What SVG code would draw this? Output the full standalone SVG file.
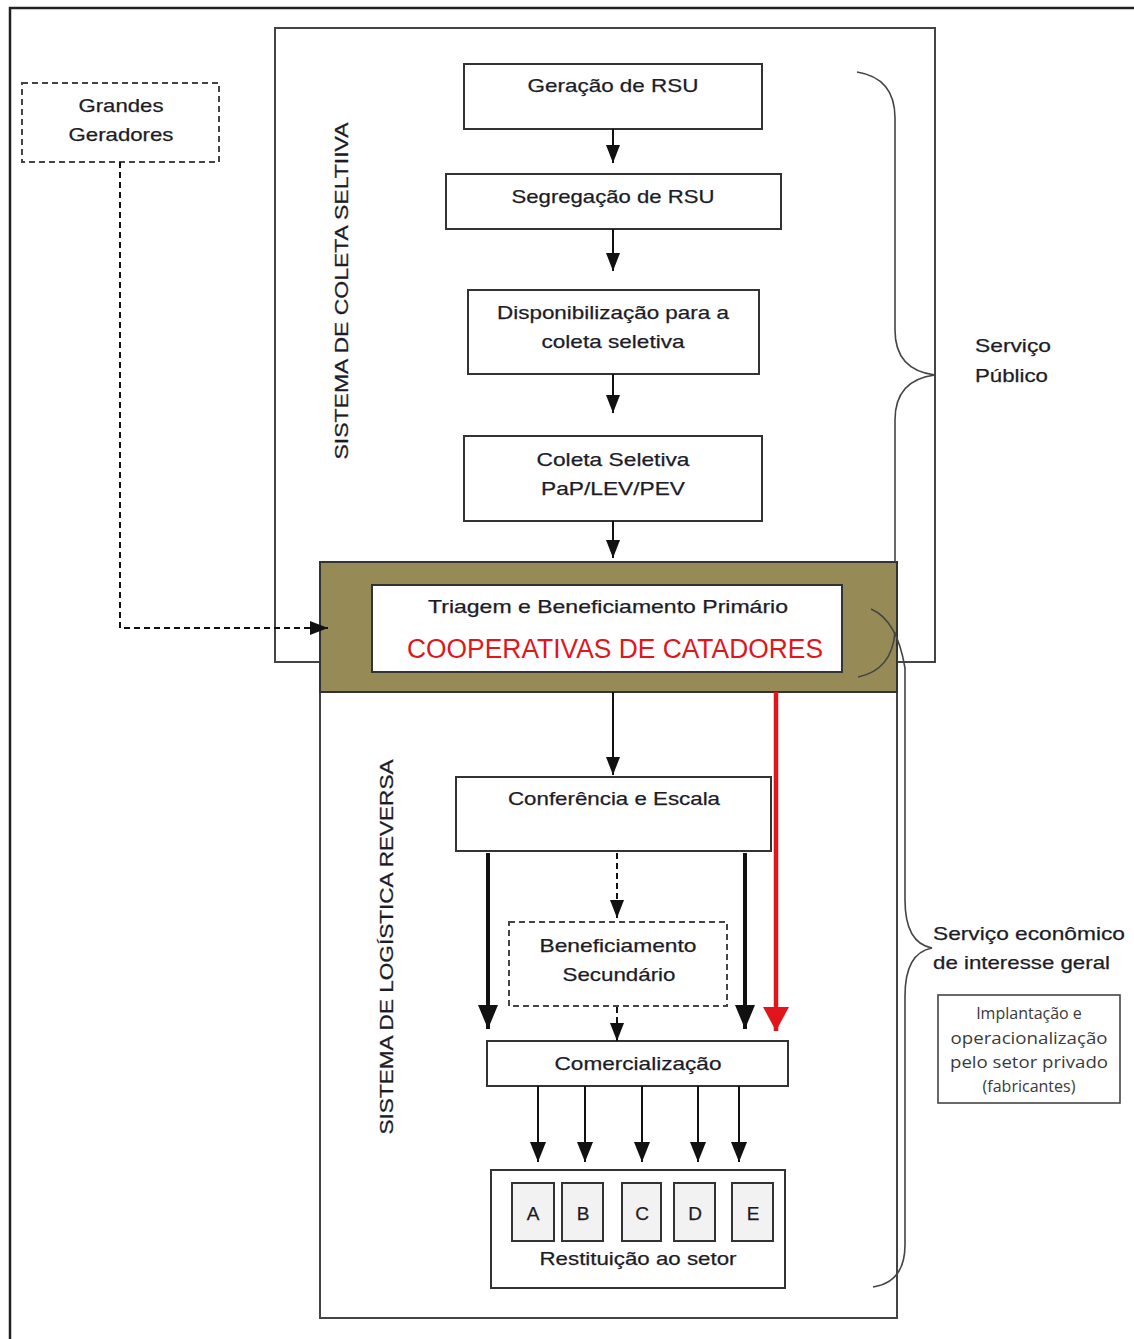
<svg xmlns="http://www.w3.org/2000/svg" width="1134" height="1339" viewBox="0 0 1134 1339">
  <style>
    .box { fill: #fff; stroke: #333; stroke-width: 2; }
    .dbox { fill: #fff; stroke: #444; stroke-width: 2; stroke-dasharray: 6 4; }
    .frame { fill: none; stroke: #444; stroke-width: 2; }
    .brace { fill: none; stroke: #444; stroke-width: 1.6; }
    .t { font-family: "Liberation Sans", Arial, sans-serif; font-size: 19px; fill: #1c1c28; text-anchor: middle; stroke: #1c1c28; stroke-width: 0.25; }
    .tl { font-family: "Liberation Sans", Arial, sans-serif; font-size: 19px; fill: #1c1c28; stroke: #1c1c28; stroke-width: 0.25; }
    .note { font-family: "Open Sans", "Noto Sans", sans-serif; font-size: 16px; fill: #3a3a3a; text-anchor: middle; }
    .ln { fill: none; stroke: #111; stroke-width: 2; }
    .dash { fill: none; stroke: #111; stroke-width: 2; stroke-dasharray: 6 4; }
    .thick { fill: none; stroke: #111; stroke-width: 4; }
    .red { fill: none; stroke: #e0161c; stroke-width: 4.5; }
    .sq { fill: #f2f2f2; stroke: #333; stroke-width: 2; }
  </style>
  <defs>
    <marker id="ah" markerUnits="userSpaceOnUse" viewBox="0 0 18 14" refX="18" refY="7" markerWidth="18" markerHeight="14" orient="auto">
      <path d="M0,0 L18,7 L0,14 z" fill="#111"/>
    </marker>
    <marker id="ahBig" markerUnits="userSpaceOnUse" viewBox="0 0 24 20" refX="24" refY="10" markerWidth="24" markerHeight="20" orient="auto">
      <path d="M0,0 L24,10 L0,20 z" fill="#111"/>
    </marker>
    <marker id="ahMid" markerUnits="userSpaceOnUse" viewBox="0 0 20 16" refX="20" refY="8" markerWidth="20" markerHeight="16" orient="auto">
      <path d="M0,0 L20,8 L0,16 z" fill="#111"/>
    </marker>
    <marker id="ahRed" markerUnits="userSpaceOnUse" viewBox="0 0 24 26" refX="24" refY="13" markerWidth="24" markerHeight="26" orient="auto">
      <path d="M0,0 L24,13 L0,26 z" fill="#e0161c"/>
    </marker>
  </defs>

  <rect x="0" y="0" width="1134" height="1339" fill="#fff"/>

  <!-- outer frame (open on right and bottom) -->
  <path d="M10,1339 V8 H1134" fill="none" stroke="#222" stroke-width="2.5"/>

  <!-- system enclosures -->
  <g id="sistema-coleta">
    <path class="frame" d="M320,662 H275 V28 H935 V662 H897"/>
    <text class="t" transform="translate(348,291) rotate(-90)" textLength="337" lengthAdjust="spacingAndGlyphs">SISTEMA DE COLETA SELTIIVA</text>
  </g>
  <g id="sistema-logistica">
    <path class="frame" d="M320,692 V1318 H897 V692"/>
    <text class="t" transform="translate(393,947) rotate(-90)" textLength="375" lengthAdjust="spacingAndGlyphs">SISTEMA DE LOGÍSTICA REVERSA</text>
  </g>

  <!-- process nodes -->
  <g id="grandes-geradores">
    <rect class="dbox" x="22" y="83" width="197" height="79"/>
    <text class="t" x="121" y="112" textLength="85" lengthAdjust="spacingAndGlyphs">Grandes</text>
    <text class="t" x="121" y="141" textLength="105" lengthAdjust="spacingAndGlyphs">Geradores</text>
  </g>
  <g id="geracao">
    <rect class="box" x="464" y="64" width="298" height="65"/>
    <text class="t" x="613" y="92" textLength="171" lengthAdjust="spacingAndGlyphs">Geração de RSU</text>
  </g>
  <g id="segregacao">
    <rect class="box" x="446" y="174" width="335" height="55"/>
    <text class="t" x="613" y="203" textLength="203" lengthAdjust="spacingAndGlyphs">Segregação de RSU</text>
  </g>
  <g id="disponibilizacao">
    <rect class="box" x="468" y="290" width="291" height="84"/>
    <text class="t" x="613" y="319" textLength="232" lengthAdjust="spacingAndGlyphs">Disponibilização para a</text>
    <text class="t" x="613" y="348" textLength="143" lengthAdjust="spacingAndGlyphs">coleta seletiva</text>
  </g>
  <g id="coleta-seletiva">
    <rect class="box" x="464" y="436" width="298" height="85"/>
    <text class="t" x="613" y="466" textLength="153" lengthAdjust="spacingAndGlyphs">Coleta Seletiva</text>
    <text class="t" x="613" y="495" textLength="144" lengthAdjust="spacingAndGlyphs">PaP/LEV/PEV</text>
  </g>
  <g id="cooperativas">
    <rect x="320" y="562" width="577" height="130" fill="#968b56" stroke="#333" stroke-width="2"/>
    <rect x="372" y="585" width="470" height="87" fill="#fff" stroke="#333" stroke-width="2"/>
    <text class="t" x="608" y="613" textLength="360" lengthAdjust="spacingAndGlyphs">Triagem e  Beneficiamento Primário</text>
    <text x="615" y="658" text-anchor="middle" font-family="'Liberation Sans', Arial, sans-serif" font-size="27" fill="#e0161c" textLength="416" lengthAdjust="spacingAndGlyphs">COOPERATIVAS DE CATADORES</text>
  </g>
  <g id="conferencia">
    <rect class="box" x="456" y="777" width="315" height="74"/>
    <text class="t" x="614" y="805" textLength="212" lengthAdjust="spacingAndGlyphs">Conferência e Escala</text>
  </g>
  <g id="beneficiamento-secundario">
    <rect class="dbox" x="509" y="922" width="218" height="84"/>
    <text class="t" x="618" y="952" textLength="157" lengthAdjust="spacingAndGlyphs">Beneficiamento</text>
    <text class="t" x="619" y="981" textLength="113" lengthAdjust="spacingAndGlyphs">Secundário</text>
  </g>
  <g id="comercializacao">
    <rect class="box" x="487" y="1041" width="301" height="45"/>
    <text class="t" x="638" y="1070" textLength="167" lengthAdjust="spacingAndGlyphs">Comercialização</text>
  </g>
  <g id="restituicao">
    <rect class="box" x="491" y="1170" width="294" height="118"/>
    <rect class="sq" x="512" y="1183" width="42" height="58"/>
    <rect class="sq" x="562" y="1183" width="41" height="58"/>
    <rect class="sq" x="622" y="1183" width="39" height="58"/>
    <rect class="sq" x="674" y="1183" width="41" height="58"/>
    <rect class="sq" x="732" y="1183" width="41" height="58"/>
    <text class="t" x="533" y="1220">A</text>
    <text class="t" x="583" y="1220">B</text>
    <text class="t" x="642" y="1220">C</text>
    <text class="t" x="695" y="1220">D</text>
    <text class="t" x="753" y="1220">E</text>
    <text class="t" x="638" y="1265" textLength="197" lengthAdjust="spacingAndGlyphs">Restituição ao setor</text>
  </g>

  <!-- braces, drawn over the cooperative block so their ends stay visible -->
  <g id="chave-servico-publico">
    <path class="brace" d="M857,72 Q895,78 895,118 V330 Q895,370 935,375 Q895,380 895,420 V562 M895,632 Q892,670 858,677"/>
    <text class="tl" x="975" y="352" textLength="76" lengthAdjust="spacingAndGlyphs">Serviço</text>
    <text class="tl" x="975" y="382" textLength="73" lengthAdjust="spacingAndGlyphs">Público</text>
  </g>
  <g id="chave-servico-economico">
    <path class="brace" d="M871,609 Q897,620 905,668 V900 Q905,943 932,948 Q905,953 905,996 V1245 Q905,1282 873,1287"/>
    <text class="tl" x="933" y="940" textLength="192" lengthAdjust="spacingAndGlyphs">Serviço econômico</text>
    <text class="tl" x="933" y="969" textLength="177" lengthAdjust="spacingAndGlyphs">de interesse geral</text>
  </g>
  <g id="nota-setor-privado">
    <rect x="938" y="995" width="182" height="108" fill="#fff" stroke="#444" stroke-width="1.6"/>
    <text class="note" x="1029" y="1019">Implantação e</text>
    <text class="note" x="1029" y="1044" textLength="157" lengthAdjust="spacingAndGlyphs">operacionalização</text>
    <text class="note" x="1029" y="1068" textLength="158" lengthAdjust="spacingAndGlyphs">pelo setor privado</text>
    <text class="note" x="1029" y="1092">(fabricantes)</text>
  </g>

  <!-- connectors -->
  <g id="conectores">
    <path class="ln" d="M613,129 V163" marker-end="url(#ah)"/>
    <path class="ln" d="M613,229 V271" marker-end="url(#ah)"/>
    <path class="ln" d="M613,374 V413" marker-end="url(#ah)"/>
    <path class="ln" d="M613,521 V558" marker-end="url(#ah)"/>
    <path class="dash" d="M120,162 V628 H328" marker-end="url(#ah)"/>
    <path class="ln" d="M613,692 V775" marker-end="url(#ah)"/>
    <path class="thick" d="M488,853 V1029" marker-end="url(#ahBig)"/>
    <path class="thick" d="M745,853 V1029" marker-end="url(#ahBig)"/>
    <path class="dash" d="M617,853 V918" marker-end="url(#ah)"/>
    <path class="dash" d="M617,1007 V1041" marker-end="url(#ah)"/>
    <path class="red" d="M776,692 V1031" marker-end="url(#ahRed)"/>
    <path class="ln" d="M538,1086 V1162" marker-end="url(#ahMid)"/>
    <path class="ln" d="M585,1086 V1162" marker-end="url(#ahMid)"/>
    <path class="ln" d="M642,1086 V1162" marker-end="url(#ahMid)"/>
    <path class="ln" d="M698,1086 V1162" marker-end="url(#ahMid)"/>
    <path class="ln" d="M739,1086 V1162" marker-end="url(#ahMid)"/>
  </g>
</svg>
